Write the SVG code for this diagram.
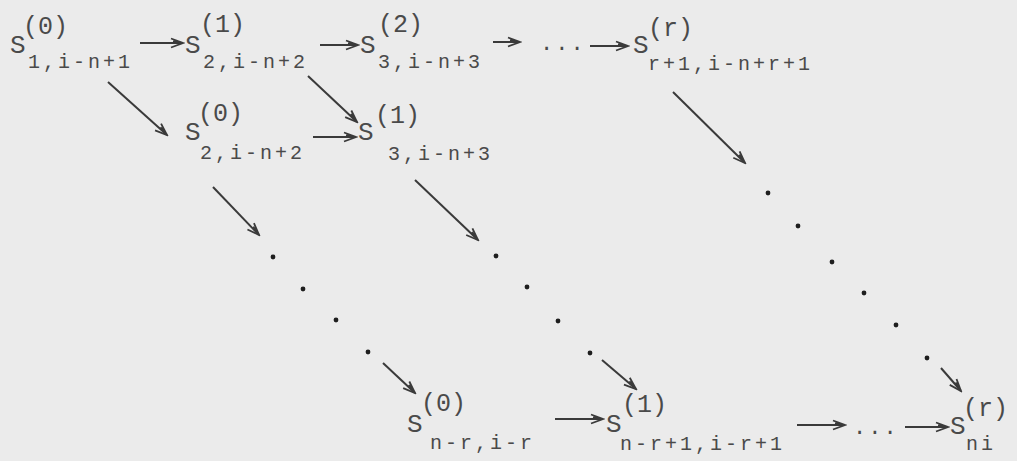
<svg xmlns="http://www.w3.org/2000/svg" width="1017" height="461" viewBox="0 0 1017 461">
<style>
text{font-family:"Liberation Mono","DejaVu Sans Mono",monospace;fill:#4a4a4a}
.s{font-size:26px}
.p{font-size:25px}
.b{font-size:20px;letter-spacing:3px}
.c line{stroke:#3a3a3a;stroke-width:2;marker-end:url(#ah)}
.d circle{fill:#1e1e1e}
.el{font-size:22px;letter-spacing:2px}
</style>
<defs>
<marker id="ah" viewBox="-13 -6 15 12" refX="0" refY="0" markerWidth="15" markerHeight="12" markerUnits="userSpaceOnUse" orient="auto">
<path d="M-12,-4.5 L0,0 L-12,4.5 M-10,-1.5 L0,0" fill="none" stroke="#3a3a3a" stroke-width="1.8"/>
</marker>
</defs>
<rect width="1017" height="461" fill="#ebebeb"/>
<g id="nA"><text class="s" x="10" y="53">S</text><text class="p" x="23" y="34">(0)</text><text class="b" x="28" y="68">1,i-n+1</text></g>
<g id="nB"><text class="s" x="185" y="53">S</text><text class="p" x="200" y="32">(1)</text><text class="b" x="203" y="68">2,i-n+2</text></g>
<g id="nC"><text class="s" x="360" y="53">S</text><text class="p" x="378" y="32">(2)</text><text class="b" x="378" y="68">3,i-n+3</text></g>
<g id="nD"><text class="s" x="633" y="53">S</text><text class="p" x="648" y="36">(r)</text><text class="b" x="648" y="70">r+1,i-n+r+1</text></g>
<g id="nG"><text class="s" x="185" y="140">S</text><text class="p" x="198" y="121">(0)</text><text class="b" x="200" y="159">2,i-n+2</text></g>
<g id="nH"><text class="s" x="358" y="140">S</text><text class="p" x="375" y="123">(1)</text><text class="b" x="388" y="160">3,i-n+3</text></g>
<g id="nE"><text class="s" x="407" y="432">S</text><text class="p" x="421" y="411">(0)</text><text class="b" x="430" y="449">n-r,i-r</text></g>
<g id="nF"><text class="s" x="606" y="432">S</text><text class="p" x="622" y="412">(1)</text><text class="b" x="620" y="450">n-r+1,i-r+1</text></g>
<g id="nN"><text class="s" x="950" y="434">S</text><text class="p" x="963" y="416">(r)</text><text class="b" x="966" y="450">ni</text></g>
<g id="ellipses">
<text class="el" x="540" y="50">...</text>
<text class="el" x="853" y="434">...</text>
</g>
<g class="d" id="dots">
<circle cx="273" cy="257" r="2.4"/><circle cx="303" cy="289" r="2.4"/><circle cx="336" cy="320" r="2.4"/><circle cx="368" cy="352" r="2.4"/>
<circle cx="496" cy="256" r="2.4"/><circle cx="527" cy="287" r="2.4"/><circle cx="558" cy="321" r="2.4"/><circle cx="590" cy="353" r="2.4"/>
<circle cx="768" cy="193" r="2.4"/><circle cx="798" cy="226" r="2.4"/><circle cx="832" cy="262" r="2.4"/><circle cx="864" cy="293" r="2.4"/><circle cx="896" cy="325" r="2.4"/><circle cx="927" cy="358" r="2.4"/>
</g>
<g class="c" id="connectors">
<line x1="140" y1="43" x2="183" y2="43"/>
<line x1="320" y1="45" x2="358" y2="45"/>
<line x1="493" y1="42" x2="520" y2="42"/>
<line x1="590" y1="46" x2="628" y2="46"/>
<line x1="313" y1="137" x2="356" y2="137"/>
<line x1="555" y1="419" x2="603" y2="419"/>
<line x1="797" y1="425" x2="845" y2="425"/>
<line x1="905" y1="427" x2="948" y2="427"/>
<line x1="108" y1="82" x2="167" y2="135"/>
<line x1="308" y1="76" x2="357" y2="122"/>
<line x1="213" y1="187" x2="259" y2="235"/>
<line x1="415" y1="180" x2="478" y2="240"/>
<line x1="673" y1="92" x2="745" y2="163"/>
<line x1="383" y1="363" x2="415" y2="393"/>
<line x1="602" y1="360" x2="636" y2="389"/>
<line x1="941" y1="368" x2="961" y2="391"/>
</g>
</svg>
